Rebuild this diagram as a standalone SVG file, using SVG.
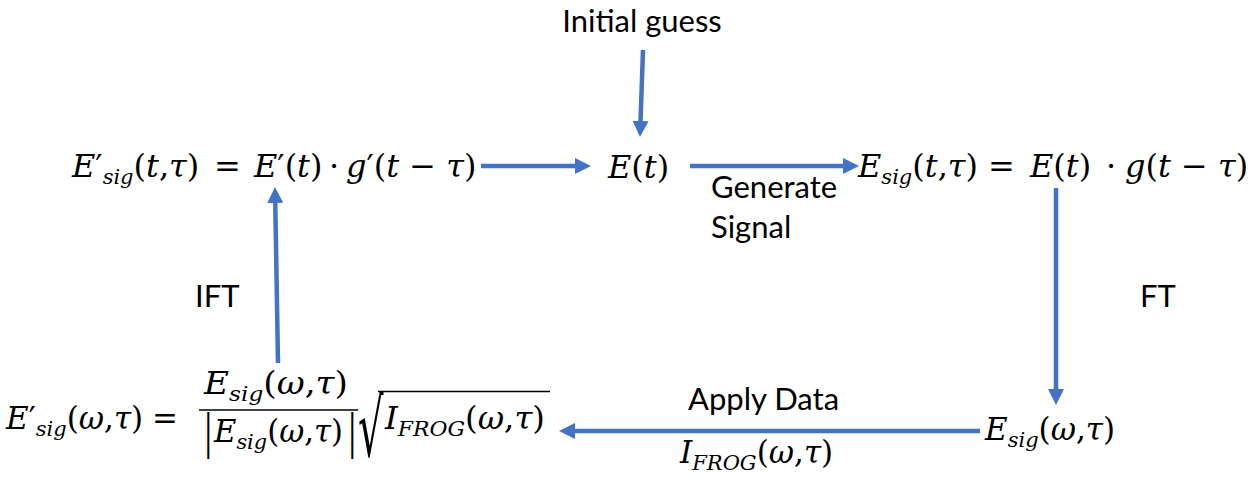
<svg xmlns="http://www.w3.org/2000/svg" width="1255" height="484" viewBox="0 0 1255 484">
<style>
.m{font-family:"DejaVu Serif","Liberation Serif",serif;font-size:32px;fill:#000}
.b{font-size:31px}
.i{font-style:italic}
.s{font-style:italic;font-size:21px}
.lbl{font-family:Lato,"Liberation Sans",sans-serif;font-size:31px;fill:#000}
.c{stroke:#4472C4;stroke-width:4.5;fill:none}
.k{stroke:#000;stroke-width:1.6}
</style>
<defs>
<marker id="ah" markerWidth="16" markerHeight="16" refX="4" refY="8" orient="auto" markerUnits="userSpaceOnUse">
<path d="M0,0 L16,8 L0,16 z" fill="#4472C4"/>
</marker>
</defs>
<g id="connectors">
<line class="c" x1="643" y1="50" x2="640.4" y2="125" marker-end="url(#ah)"/>
<line class="c" x1="481" y1="166" x2="579" y2="166" marker-end="url(#ah)"/>
<line class="c" x1="690" y1="166" x2="847" y2="166" marker-end="url(#ah)"/>
<line class="c" x1="1056" y1="188" x2="1056" y2="393" marker-end="url(#ah)"/>
<line class="c" x1="980" y1="431" x2="571" y2="431" marker-end="url(#ah)"/>
<line class="c" x1="278" y1="363" x2="275.2" y2="199" marker-end="url(#ah)"/>
</g>
<g id="initial-guess"><text class="lbl" x="642" y="32" text-anchor="middle">Initial guess</text></g>
<g id="label-generate"><text class="lbl" x="711" y="198">Generate</text><text class="lbl" x="711" y="238">Signal</text></g>
<g id="label-ift"><text class="lbl" x="195" y="307">IFT</text></g>
<g id="label-ft"><text class="lbl" x="1140" y="307">FT</text></g>
<g id="label-apply"><text class="lbl" x="688" y="410">Apply Data</text></g>
<g id="node-eprime-t">
<text class="m" y="177"><tspan x="72" class="i">E</tspan>′<tspan class="s" dy="7">sig</tspan><tspan dy="-7">(</tspan><tspan class="i">t</tspan>,<tspan class="i">τ</tspan>)<tspan x="214">=</tspan><tspan x="254" class="i">E</tspan>′(<tspan class="i">t</tspan>)<tspan x="329">·</tspan><tspan x="346" class="i">g</tspan>′(<tspan class="i">t</tspan> − <tspan class="i">τ</tspan>)</text>
</g>
<g id="node-et">
<text class="m" y="178"><tspan x="608" class="i">E</tspan>(<tspan class="i">t</tspan>)</text>
</g>
<g id="node-esig-t">
<text class="m" y="177"><tspan x="858" class="i">E</tspan><tspan class="s" dy="7">sig</tspan><tspan dy="-7">(</tspan><tspan class="i">t</tspan>,<tspan class="i">τ</tspan>)<tspan x="988">=</tspan><tspan x="1030" class="i">E</tspan>(<tspan class="i">t</tspan>)<tspan x="1106">·</tspan><tspan x="1125" class="i">g</tspan>(<tspan class="i">t</tspan> − <tspan class="i">τ</tspan>)</text>
</g>
<g id="node-esig-w">
<text class="m b" y="440"><tspan x="985" class="i">E</tspan><tspan class="s" dy="7">sig</tspan><tspan dy="-7">(</tspan><tspan class="i">ω</tspan>,<tspan class="i">τ</tspan>)</text>
</g>
<g id="label-ifrog">
<text class="m b" y="463"><tspan x="680" class="i">I</tspan><tspan class="s" dy="7">FROG</tspan><tspan dy="-7">(</tspan><tspan class="i">ω</tspan>,<tspan class="i">τ</tspan>)</text>
</g>
<g id="node-eprime-w">
<text class="m b" x="6" y="429"><tspan class="i">E</tspan>′<tspan class="s" dy="7">sig</tspan><tspan dy="-7">(</tspan><tspan class="i">ω</tspan>,<tspan class="i">τ</tspan>)</text>
<text class="m b" x="152" y="429">=</text>
<text class="m b" x="204" y="394" textLength="144" lengthAdjust="spacingAndGlyphs"><tspan class="i">E</tspan><tspan class="s" dy="7">sig</tspan><tspan dy="-7">(</tspan><tspan class="i">ω</tspan>,<tspan class="i">τ</tspan>)</text>
<line class="k" x1="199" y1="410" x2="358" y2="410"/>
<text class="m" transform="translate(204,448) scale(0.55,1)" style="font-size:46px">|</text>
<text class="m b" x="214" y="442" textLength="129" lengthAdjust="spacingAndGlyphs"><tspan class="i">E</tspan><tspan class="s" dy="7">sig</tspan><tspan dy="-7">(</tspan><tspan class="i">ω</tspan>,<tspan class="i">τ</tspan>)</text>
<text class="m" transform="translate(348,448) scale(0.55,1)" style="font-size:46px">|</text>
<text class="m" transform="translate(358,456) scale(1,2)" style="font-size:40px">√</text>
<line class="k" x1="378" y1="391.5" x2="550" y2="391.5"/>
<text class="m b" x="385" y="429" textLength="160" lengthAdjust="spacingAndGlyphs"><tspan class="i">I</tspan><tspan class="s" dy="7">FROG</tspan><tspan dy="-7">(</tspan><tspan class="i">ω</tspan>,<tspan class="i">τ</tspan>)</text>
</g>
</svg>
